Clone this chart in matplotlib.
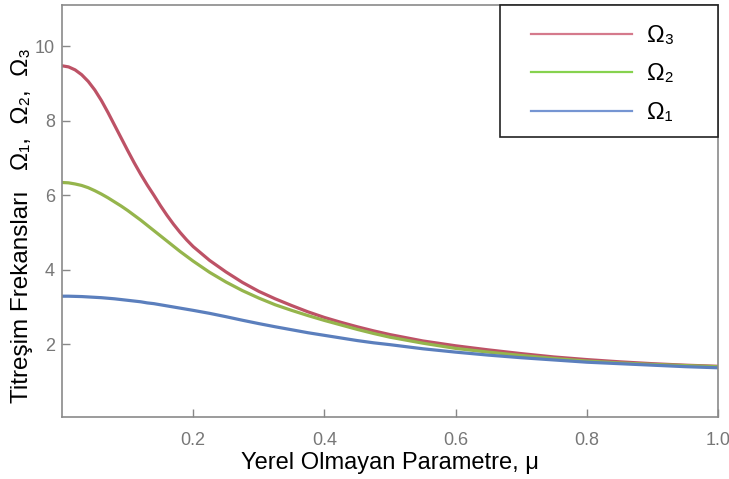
import numpy as np
import matplotlib.pyplot as plt
from matplotlib.patches import Rectangle

plt.rcParams['font.family'] = ['Liberation Sans', 'DejaVu Sans']

# nonlocal parameter values and the three natural frequencies
mu = [0.0, 0.01, 0.02, 0.03, 0.04, 0.05, 0.06, 0.07, 0.08, 0.09, 0.10,
      0.11, 0.12, 0.13, 0.14, 0.15, 0.16, 0.17, 0.18, 0.19, 0.20,
      0.225, 0.25, 0.275, 0.30, 0.325, 0.35, 0.375, 0.40, 0.425, 0.45,
      0.475, 0.50, 0.55, 0.60, 0.65, 0.70, 0.75, 0.80, 0.85, 0.90, 0.95, 1.00]
omega3 = [9.47, 9.44, 9.36, 9.23, 9.05, 8.82, 8.54, 8.22, 7.88, 7.54, 7.20,
          6.87, 6.56, 6.27, 6.00, 5.72, 5.46, 5.22, 5.00, 4.80, 4.62,
          4.25, 3.94, 3.66, 3.42, 3.22, 3.04, 2.87, 2.72, 2.59, 2.47,
          2.36, 2.26, 2.09, 1.96, 1.85, 1.75, 1.66, 1.59, 1.53, 1.48, 1.44, 1.41]
omega2 = [6.34, 6.33, 6.30, 6.26, 6.20, 6.12, 6.03, 5.93, 5.82, 5.71, 5.59,
          5.46, 5.33, 5.19, 5.05, 4.91, 4.77, 4.63, 4.49, 4.36, 4.23,
          3.93, 3.67, 3.44, 3.24, 3.06, 2.91, 2.77, 2.64, 2.52, 2.40,
          2.29, 2.19, 2.03, 1.89, 1.79, 1.70, 1.62, 1.55, 1.50, 1.46, 1.43, 1.40]
omega1 = [3.29, 3.29, 3.285, 3.28, 3.27, 3.26, 3.25, 3.235, 3.22, 3.20, 3.18,
          3.16, 3.14, 3.11, 3.09, 3.06, 3.03, 3.00, 2.97, 2.94, 2.91,
          2.83, 2.74, 2.645, 2.555, 2.47, 2.39, 2.31, 2.24, 2.17, 2.10,
          2.04, 1.99, 1.88, 1.79, 1.71, 1.64, 1.58, 1.52, 1.48, 1.44, 1.40, 1.37]

xticks = [0.2, 0.4, 0.6, 0.8, 1.0]
yticks = [2, 4, 6, 8, 10]

fig = plt.figure(figsize=(7.29, 4.79), dpi=100)
ax = fig.add_axes([62 / 729, 1 - 417 / 479, 656 / 729, 412 / 479])

l3, = ax.plot(mu, omega3, color='#bd5266', lw=2.3, label='Ω₃')
l2, = ax.plot(mu, omega2, color='#95b54c', lw=2.3, label='Ω₂')
l1, = ax.plot(mu, omega1, color='#5b7fbd', lw=2.3, label='Ω₁')

ax.set_xlim(0, 1.0)
ax.set_ylim(0.05, 11.1)
ax.set_xticks(xticks)
ax.set_xticklabels(['0.2', '0.4', '0.6', '0.8', '1.0'])
ax.set_yticks(yticks)
ax.tick_params(direction='in', length=6, width=1, color='#888888',
               labelcolor='#777777', labelsize=13)
ax.tick_params(axis='x', pad=11)
ax.tick_params(axis='y', pad=5)
for s in ax.spines.values():
    s.set_color('#8a8a8a')
    s.set_linewidth(1.2)

ax.set_xlabel('Yerel Olmayan Parametre, μ', fontsize=17)
ax.xaxis.set_label_coords(0.5, -0.085)
ax.set_ylabel('Titreşim Frekansları   Ω₁,  Ω₂,  Ω₃', fontsize=17.5)
ax.yaxis.set_label_coords(-0.044, 0.465)

# legend box in the upper right corner
leg = ax.legend(handles=[l3, l2, l1], frameon=False, loc='upper left',
                bbox_to_anchor=(512 / 729, 1 - 6 / 479),
                bbox_transform=fig.transFigure, fontsize=17,
                handlelength=4.3, handletextpad=0.6, labelspacing=0.7,
                borderpad=0.3)
for line, c in zip(leg.get_lines(), ['#d57a8c', '#86d24e', '#7595d2']):
    line.set_color(c)
    line.set_linewidth(1.6)
leg.set_zorder(6)
ax.add_patch(Rectangle((500 / 729, 1 - 137 / 479), 218 / 729, 132 / 479,
                       transform=fig.transFigure, clip_on=False,
                       facecolor='white', edgecolor='#222222', lw=1.2,
                       zorder=5))

fig.savefig('out.png', dpi=100)
